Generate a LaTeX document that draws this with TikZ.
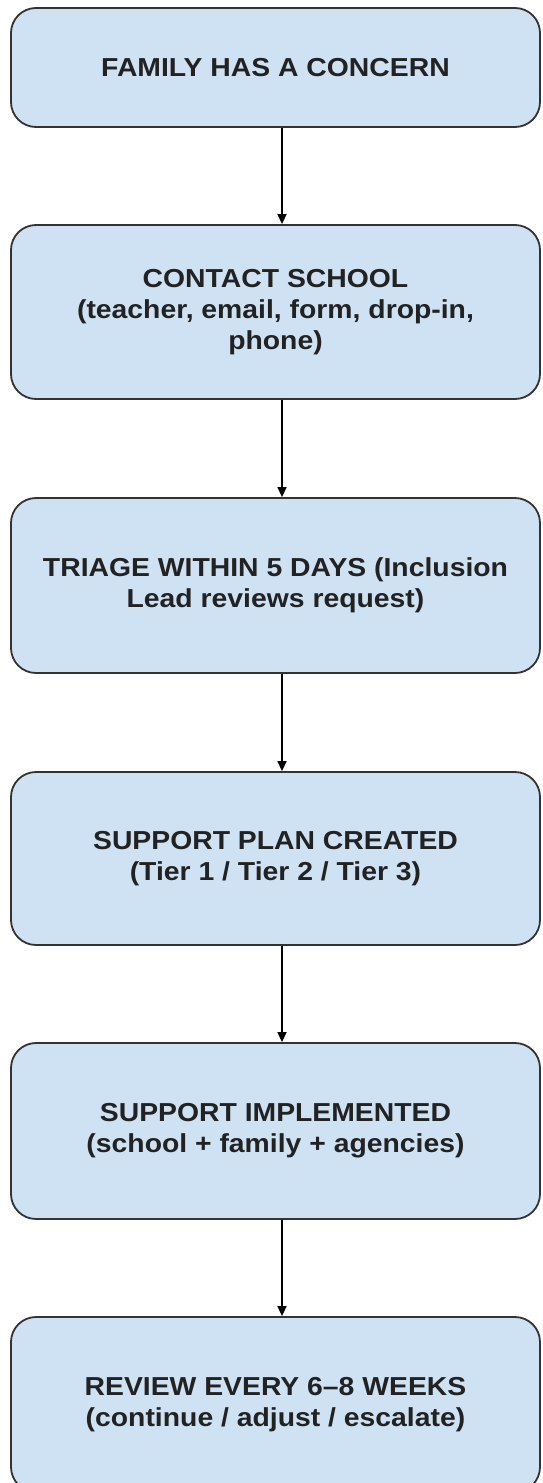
\documentclass[tikz,border=0pt]{standalone}
\usepackage{fontspec}
\setmainfont{Liberation Sans}[FakeStretch=1.09]
\usetikzlibrary{arrows.meta}
\definecolor{boxfill}{HTML}{CFE2F3}
\definecolor{boxline}{HTML}{333333}
\definecolor{textcol}{HTML}{222222}
\begin{document}
\begin{tikzpicture}[x=1pt,y=-1pt,
  stepbox/.style={draw=boxline, line width=1.8pt, fill=boxfill, rounded corners=25pt,
    minimum width=529pt, align=center, text=textcol,
    font=\fontsize{26pt}{31pt}\selectfont\bfseries},
  flow/.style={draw=black, line width=1.4pt, -{Triangle[length=10pt,width=9pt]}}]
\useasboundingbox (0,0) rectangle (542,1483);
\clip (0,0) rectangle (542,1483);
\fill[white] (0,0) rectangle (542,1483);

\node[stepbox, minimum height=119pt] (b1) at (275.5,67.5) {FAMILY HAS A CONCERN};
\node[stepbox, minimum height=174pt] (b2) at (275.5,312) {CONTACT SCHOOL\\(teacher, email, form, drop-in,\\phone)};
\node[stepbox, minimum height=175pt] (b3) at (275.5,585.5) {TRIAGE WITHIN 5 DAYS (Inclusion\\Lead reviews request)};
\node[stepbox, minimum height=173pt] (b4) at (275.5,858.5) {SUPPORT PLAN CREATED\\(Tier 1 / Tier 2 / Tier 3)};
\node[stepbox, minimum height=176pt] (b5) at (275.5,1131) {SUPPORT IMPLEMENTED\\(school + family + agencies)};
\node[stepbox, minimum height=175pt] (b6) at (275.5,1404.5) {REVIEW EVERY 6--8 WEEKS\\(continue / adjust / escalate)};

\foreach \a/\b in {b1/b2,b2/b3,b3/b4,b4/b5,b5/b6}
  \draw[flow] ([xshift=6.5pt]\a.south) -- ([xshift=6.5pt]\b.north);
\end{tikzpicture}
\end{document}
